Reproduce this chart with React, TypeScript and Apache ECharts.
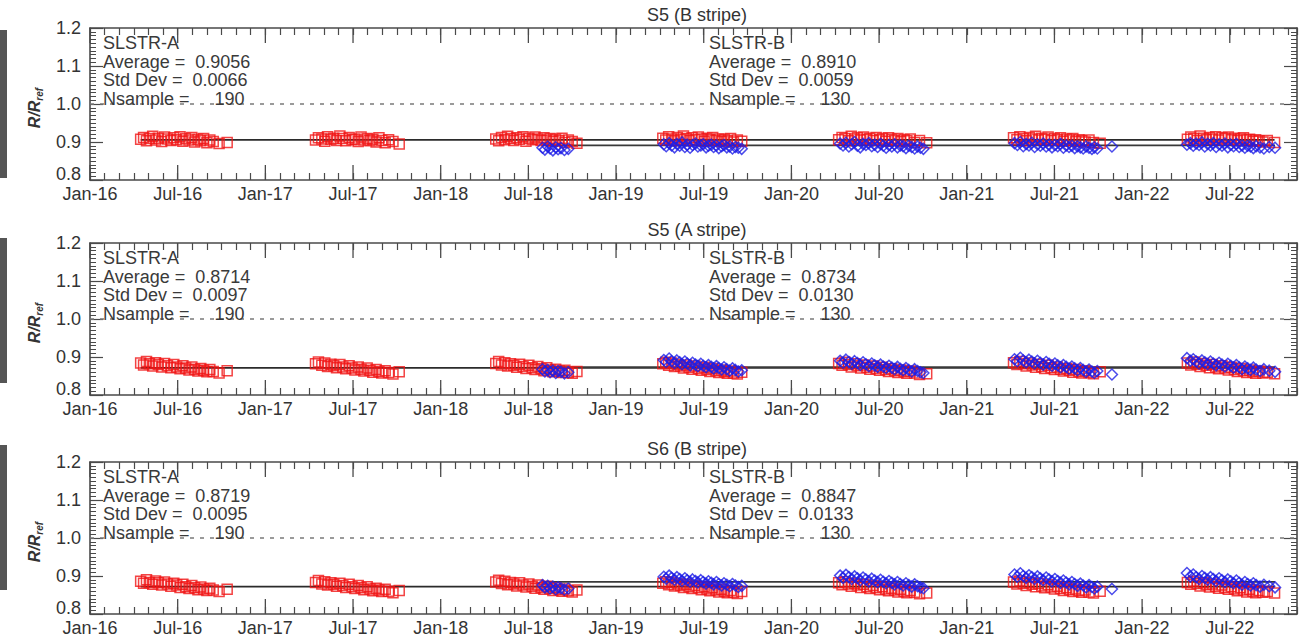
import React, { useEffect, useRef } from 'react';
import * as echarts from 'echarts';

const FONT = '"Liberation Sans", Arial, Helvetica, sans-serif';

// Axis labels and extents
const tickLabels = ['Jan-16', 'Jul-16', 'Jan-17', 'Jul-17', 'Jan-18', 'Jul-18', 'Jan-19', 'Jul-19', 'Jan-20', 'Jul-20', 'Jan-21', 'Jul-21', 'Jan-22', 'Jul-22'];
const monthsPerLabel = 6;
const xMax = 82.6; // months since Jan 2016
const yMin = 0.8;
const yMax = 1.2;
const refLevel = 1.0;

// Panel annotations
const panelTitles = ['S5 (B stripe)', 'S5 (A stripe)', 'S6 (B stripe)'];
const avgA = [0.9056, 0.8714, 0.8719];
const sdA = [0.0066, 0.0097, 0.0095];
const avgB = [0.891, 0.8734, 0.8847];
const sdB = [0.0059, 0.013, 0.0133];
const nSampleA = 190;
const nSampleB = 130;

// Acquisition dates (day of year) per campaign season, shared by all bands
const yearsA = [2016, 2017, 2018, 2019, 2020, 2021, 2022];
const daysA = [
  [106, 112, 118, 124, 131, 137, 143, 150, 156, 162, 169, 175, 181, 188, 194, 200, 207, 213, 219, 226, 232, 238, 245, 251, 258, 270, 287],
  [104, 110, 117, 123, 129, 136, 142, 148, 155, 161, 167, 174, 180, 186, 193, 199, 205, 212, 218, 224, 231, 237, 243, 250, 257, 266, 279],
  [114, 120, 126, 133, 139, 145, 152, 158, 164, 171, 177, 183, 190, 196, 202, 209, 215, 221, 228, 234, 240, 247, 253, 259, 266, 274, 284],
  [97, 103, 109, 115, 121, 127, 134, 140, 146, 152, 158, 164, 171, 177, 183, 189, 195, 201, 208, 214, 220, 226, 232, 239, 245, 253, 262],
  [99, 106, 112, 119, 125, 132, 138, 145, 151, 158, 164, 171, 177, 184, 190, 197, 203, 210, 216, 223, 229, 236, 242, 249, 258, 268, 283],
  [97, 104, 110, 117, 123, 130, 136, 143, 149, 156, 162, 169, 175, 182, 188, 195, 201, 208, 214, 221, 227, 234, 240, 247, 255, 264, 278],
  [94, 101, 107, 114, 120, 127, 133, 140, 146, 153, 159, 166, 172, 179, 185, 192, 198, 205, 211, 218, 224, 231, 237, 244, 252, 261, 276],
];
const yearsB = [2018, 2019, 2020, 2021, 2022];
const daysB = [
  [212, 217, 223, 228, 234, 240, 245, 251, 258, 266],
  [99, 104, 110, 115, 121, 126, 132, 137, 143, 148, 154, 159, 165, 170, 176, 181, 187, 192, 198, 203, 209, 214, 220, 225, 231, 237, 243, 249, 255, 262],
  [102, 108, 114, 120, 126, 132, 138, 144, 150, 156, 162, 168, 174, 180, 186, 192, 198, 204, 210, 216, 222, 228, 234, 240, 246, 252, 258, 264, 270, 276],
  [99, 105, 111, 117, 123, 129, 135, 141, 147, 153, 159, 165, 171, 177, 183, 189, 195, 201, 207, 213, 219, 225, 231, 237, 243, 249, 255, 261, 266, 272, 303],
  [93, 100, 106, 112, 118, 124, 130, 136, 142, 148, 154, 160, 166, 172, 178, 184, 190, 196, 202, 208, 214, 220, 226, 232, 238, 246, 254, 265, 277],
];

// R/Rref ratios, SLSTR-A (same order as daysA)
const s5bA = [
  0.907, 0.912, 0.903, 0.909, 0.915, 0.905, 0.910, 0.901, 0.913, 0.908, 0.904, 0.911, 0.906, 0.914, 0.902, 0.909, 0.905, 0.912, 0.900, 0.907, 0.903, 0.909, 0.898, 0.905, 0.901, 0.896, 0.899,
  0.905, 0.911, 0.908, 0.902, 0.914, 0.907, 0.910, 0.904, 0.916, 0.909, 0.903, 0.912, 0.906, 0.908, 0.901, 0.913, 0.905, 0.909, 0.903, 0.907, 0.900, 0.911, 0.904, 0.898, 0.906, 0.901, 0.895,
  0.908, 0.903, 0.912, 0.906, 0.915, 0.909, 0.904, 0.911, 0.907, 0.914, 0.902, 0.910, 0.906, 0.913, 0.908, 0.904, 0.911, 0.905, 0.909, 0.902, 0.907, 0.903, 0.910, 0.899, 0.905, 0.901, 0.897,
  0.910, 0.905, 0.914, 0.908, 0.903, 0.912, 0.907, 0.916, 0.909, 0.904, 0.911, 0.906, 0.913, 0.908, 0.902, 0.910, 0.906, 0.912, 0.904, 0.908, 0.901, 0.907, 0.903, 0.909, 0.900, 0.905, 0.902,
  0.906, 0.912, 0.909, 0.903, 0.915, 0.908, 0.911, 0.905, 0.913, 0.907, 0.910, 0.904, 0.912, 0.906, 0.909, 0.902, 0.911, 0.907, 0.904, 0.909, 0.901, 0.906, 0.903, 0.908, 0.899, 0.904, 0.898,
  0.911, 0.906, 0.914, 0.909, 0.903, 0.912, 0.908, 0.915, 0.905, 0.910, 0.907, 0.913, 0.904, 0.909, 0.906, 0.911, 0.902, 0.908, 0.905, 0.909, 0.901, 0.906, 0.903, 0.900, 0.905, 0.899, 0.897,
  0.907, 0.913, 0.909, 0.904, 0.916, 0.910, 0.906, 0.912, 0.908, 0.914, 0.905, 0.911, 0.909, 0.913, 0.906, 0.910, 0.904, 0.908, 0.911, 0.905, 0.907, 0.902, 0.906, 0.903, 0.900, 0.904, 0.899,
];
const s5aA = [
  0.884, 0.879, 0.888, 0.882, 0.876, 0.885, 0.880, 0.874, 0.883, 0.877, 0.872, 0.880, 0.874, 0.869, 0.877, 0.871, 0.866, 0.874, 0.868, 0.863, 0.870, 0.865, 0.861, 0.867, 0.862, 0.858, 0.864,
  0.882, 0.887, 0.878, 0.884, 0.875, 0.881, 0.877, 0.872, 0.880, 0.874, 0.869, 0.877, 0.871, 0.866, 0.874, 0.868, 0.863, 0.871, 0.865, 0.860, 0.867, 0.862, 0.858, 0.864, 0.859, 0.855, 0.861,
  0.883, 0.888, 0.879, 0.885, 0.876, 0.882, 0.878, 0.873, 0.881, 0.875, 0.870, 0.878, 0.872, 0.867, 0.875, 0.869, 0.864, 0.872, 0.866, 0.861, 0.868, 0.863, 0.859, 0.865, 0.860, 0.857, 0.862,
  0.882, 0.886, 0.878, 0.884, 0.875, 0.880, 0.876, 0.871, 0.879, 0.873, 0.868, 0.876, 0.870, 0.865, 0.873, 0.867, 0.862, 0.870, 0.864, 0.859, 0.866, 0.861, 0.857, 0.863, 0.858, 0.855, 0.860,
  0.883, 0.878, 0.886, 0.880, 0.874, 0.882, 0.877, 0.871, 0.879, 0.873, 0.868, 0.876, 0.870, 0.865, 0.873, 0.867, 0.862, 0.869, 0.864, 0.859, 0.866, 0.861, 0.857, 0.863, 0.858, 0.854, 0.856,
  0.885, 0.880, 0.888, 0.882, 0.876, 0.884, 0.879, 0.873, 0.881, 0.875, 0.870, 0.878, 0.872, 0.867, 0.874, 0.868, 0.863, 0.870, 0.865, 0.860, 0.867, 0.862, 0.858, 0.864, 0.859, 0.856, 0.861,
  0.884, 0.879, 0.887, 0.881, 0.875, 0.883, 0.878, 0.872, 0.880, 0.874, 0.869, 0.877, 0.871, 0.866, 0.873, 0.867, 0.862, 0.870, 0.864, 0.859, 0.866, 0.861, 0.857, 0.863, 0.858, 0.860, 0.856,
];
const s6bA = [
  0.886, 0.881, 0.890, 0.883, 0.878, 0.887, 0.882, 0.876, 0.884, 0.879, 0.873, 0.881, 0.876, 0.870, 0.878, 0.872, 0.867, 0.875, 0.869, 0.864, 0.871, 0.866, 0.862, 0.868, 0.863, 0.859, 0.865,
  0.883, 0.888, 0.879, 0.885, 0.876, 0.882, 0.878, 0.873, 0.881, 0.875, 0.870, 0.878, 0.872, 0.867, 0.875, 0.869, 0.864, 0.872, 0.866, 0.861, 0.868, 0.863, 0.859, 0.865, 0.860, 0.856, 0.862,
  0.884, 0.889, 0.880, 0.886, 0.877, 0.883, 0.879, 0.874, 0.882, 0.876, 0.871, 0.879, 0.873, 0.868, 0.876, 0.870, 0.865, 0.873, 0.867, 0.862, 0.869, 0.864, 0.860, 0.866, 0.861, 0.858, 0.863,
  0.881, 0.885, 0.877, 0.883, 0.874, 0.879, 0.875, 0.870, 0.878, 0.872, 0.867, 0.875, 0.869, 0.864, 0.872, 0.866, 0.861, 0.869, 0.863, 0.858, 0.865, 0.860, 0.856, 0.862, 0.857, 0.854, 0.859,
  0.882, 0.877, 0.885, 0.879, 0.873, 0.881, 0.876, 0.870, 0.878, 0.872, 0.867, 0.875, 0.869, 0.864, 0.872, 0.866, 0.861, 0.868, 0.863, 0.858, 0.865, 0.860, 0.856, 0.862, 0.857, 0.853, 0.855,
  0.884, 0.879, 0.887, 0.881, 0.875, 0.883, 0.878, 0.872, 0.880, 0.874, 0.869, 0.877, 0.871, 0.866, 0.873, 0.867, 0.862, 0.869, 0.864, 0.859, 0.866, 0.861, 0.857, 0.863, 0.858, 0.855, 0.860,
  0.883, 0.878, 0.886, 0.880, 0.874, 0.882, 0.877, 0.871, 0.879, 0.873, 0.868, 0.876, 0.870, 0.865, 0.872, 0.866, 0.861, 0.869, 0.863, 0.858, 0.865, 0.860, 0.856, 0.862, 0.857, 0.859, 0.855,
];

// R/Rref ratios, SLSTR-B (same order as daysB)
const s5bB = [
  0.885, 0.880, 0.888, 0.883, 0.878, 0.886, 0.881, 0.884, 0.879, 0.882,
  0.894, 0.889, 0.897, 0.891, 0.886, 0.895, 0.890, 0.899, 0.887, 0.893, 0.885, 0.892, 0.896, 0.888, 0.891, 0.894, 0.886, 0.890, 0.893, 0.887, 0.891, 0.884, 0.889, 0.892, 0.886, 0.888, 0.883, 0.887, 0.885, 0.882,
  0.896, 0.891, 0.898, 0.888, 0.894, 0.900, 0.890, 0.886, 0.895, 0.892, 0.897, 0.889, 0.893, 0.887, 0.895, 0.890, 0.885, 0.892, 0.888, 0.894, 0.886, 0.891, 0.889, 0.884, 0.890, 0.887, 0.883, 0.888, 0.885, 0.882,
  0.897, 0.892, 0.900, 0.889, 0.895, 0.891, 0.898, 0.887, 0.894, 0.890, 0.896, 0.888, 0.893, 0.886, 0.892, 0.889, 0.895, 0.885, 0.891, 0.887, 0.890, 0.884, 0.889, 0.886, 0.883, 0.888, 0.885, 0.882, 0.886, 0.883, 0.888,
  0.893, 0.897, 0.890, 0.896, 0.892, 0.899, 0.888, 0.895, 0.891, 0.897, 0.887, 0.894, 0.890, 0.896, 0.886, 0.893, 0.889, 0.895, 0.887, 0.891, 0.885, 0.890, 0.888, 0.884, 0.889, 0.886, 0.883, 0.887, 0.885,
];
const s5aB = [
  0.868, 0.862, 0.866, 0.860, 0.864, 0.858, 0.863, 0.861, 0.857, 0.860,
  0.892, 0.887, 0.896, 0.889, 0.884, 0.891, 0.886, 0.881, 0.888, 0.883, 0.878, 0.885, 0.880, 0.876, 0.882, 0.877, 0.873, 0.879, 0.874, 0.870, 0.876, 0.871, 0.867, 0.873, 0.868, 0.864, 0.870, 0.866, 0.862, 0.865,
  0.890, 0.885, 0.893, 0.887, 0.882, 0.889, 0.884, 0.879, 0.886, 0.881, 0.876, 0.883, 0.878, 0.874, 0.880, 0.875, 0.871, 0.877, 0.872, 0.868, 0.874, 0.869, 0.865, 0.871, 0.866, 0.862, 0.868, 0.863, 0.860, 0.858,
  0.894, 0.889, 0.898, 0.891, 0.886, 0.893, 0.888, 0.883, 0.890, 0.885, 0.880, 0.887, 0.882, 0.877, 0.883, 0.878, 0.873, 0.879, 0.874, 0.869, 0.875, 0.870, 0.865, 0.871, 0.866, 0.861, 0.867, 0.862, 0.858, 0.863, 0.854,
  0.897, 0.890, 0.894, 0.888, 0.883, 0.891, 0.886, 0.881, 0.888, 0.883, 0.878, 0.885, 0.880, 0.875, 0.882, 0.877, 0.872, 0.879, 0.873, 0.868, 0.875, 0.870, 0.866, 0.872, 0.867, 0.863, 0.868, 0.864, 0.861,
];
const s6bB = [
  0.876, 0.870, 0.874, 0.867, 0.872, 0.865, 0.870, 0.868, 0.864, 0.867,
  0.898, 0.893, 0.901, 0.895, 0.890, 0.897, 0.892, 0.887, 0.894, 0.889, 0.885, 0.891, 0.887, 0.883, 0.889, 0.884, 0.880, 0.886, 0.882, 0.878, 0.884, 0.879, 0.875, 0.881, 0.877, 0.873, 0.879, 0.875, 0.871, 0.874,
  0.901, 0.895, 0.903, 0.897, 0.892, 0.899, 0.894, 0.889, 0.896, 0.891, 0.886, 0.893, 0.888, 0.884, 0.890, 0.885, 0.881, 0.887, 0.882, 0.878, 0.884, 0.879, 0.875, 0.881, 0.876, 0.872, 0.878, 0.873, 0.870, 0.868,
  0.904, 0.898, 0.907, 0.900, 0.895, 0.902, 0.897, 0.892, 0.899, 0.894, 0.889, 0.896, 0.891, 0.886, 0.892, 0.887, 0.882, 0.888, 0.883, 0.878, 0.884, 0.879, 0.874, 0.880, 0.875, 0.870, 0.876, 0.871, 0.867, 0.872, 0.866,
  0.908, 0.899, 0.904, 0.897, 0.892, 0.900, 0.895, 0.890, 0.897, 0.892, 0.887, 0.894, 0.889, 0.884, 0.891, 0.886, 0.881, 0.888, 0.882, 0.877, 0.884, 0.879, 0.875, 0.881, 0.876, 0.872, 0.877, 0.873, 0.870,
];

const valuesA = [s5bA, s5aA, s6bA];
const valuesB = [s5bB, s5aB, s6bB];

// Layout of the three stacked panels
const panelTops = [28, 243, 462];
const panelHeight = 152;
const gridLeft = 90;
const gridRight = 10;

const RED = '#f01414';
const BLUE = '#1e1ee6';
const FRAME = '#4a4a4a';
const TEXT = '#333333';

// Fractional months since Jan 2016
function monthIndex(year: number, doy: number): number {
  const d = new Date(Date.UTC(year, 0, doy));
  const y = d.getUTCFullYear();
  const m = d.getUTCMonth();
  const dim = new Date(Date.UTC(y, m + 1, 0)).getUTCDate();
  return (y - 2016) * 12 + m + (d.getUTCDate() - 1) / dim;
}

function flattenDates(years: number[], days: number[][]): number[] {
  const out: number[] = [];
  years.forEach((yr, i) => days[i].forEach((d) => out.push(monthIndex(yr, d))));
  return out;
}

const monthsA = flattenDates(yearsA, daysA);
const monthsB = flattenDates(yearsB, daysB);

function pairUp(months: number[], vals: number[]): number[][] {
  const n = Math.min(months.length, vals.length);
  const out: number[][] = [];
  for (let i = 0; i < n; i++) out.push([months[i], vals[i]]);
  return out;
}

function xLabel(v: number): string {
  const r = Math.round(v);
  if (Math.abs(v - r) > 1e-6 || r % monthsPerLabel !== 0) return '';
  return tickLabels[r / monthsPerLabel] ?? '';
}

function yLabel(v: number): string {
  const s = v.toFixed(1);
  return Math.abs(v - yMin) < 1e-9 ? `{lo|${s}}` : s;
}

function buildOption() {
  const grid: any[] = [];
  const xAxis: any[] = [];
  const yAxis: any[] = [];
  const series: any[] = [];
  const graphic: any[] = [];

  const majorTicks = tickLabels.map((_, i) => [i * monthsPerLabel, yMin]);

  panelTitles.forEach((title, p) => {
    const top = panelTops[p];
    grid.push({ left: gridLeft, right: gridRight, top, height: panelHeight });

    const xBase = {
      type: 'value',
      gridIndex: p,
      min: 0,
      max: xMax,
      interval: 1,
      axisLine: { show: true, onZero: false, lineStyle: { color: FRAME, width: 1.6 } },
      axisTick: { show: true, inside: true, length: 7, lineStyle: { color: FRAME, width: 1.2 } },
      splitLine: { show: false },
    };
    xAxis.push({
      ...xBase,
      position: 'bottom',
      axisLabel: { show: true, formatter: xLabel, fontSize: 18, color: TEXT, fontFamily: FONT, margin: 5 },
    });
    xAxis.push({ ...xBase, position: 'top', axisLabel: { show: false } });

    const yBase = {
      type: 'value',
      gridIndex: p,
      min: yMin,
      max: yMax,
      interval: 0.1,
      axisLine: { show: true, onZero: false, lineStyle: { color: FRAME, width: 1.6 } },
      axisTick: { show: true, inside: true, length: 13, lineStyle: { color: FRAME, width: 1.2 } },
      minorTick: { show: true, splitNumber: 10, length: 6, lineStyle: { color: FRAME, width: 1 } },
      splitLine: { show: false },
      minorSplitLine: { show: false },
    };
    yAxis.push({
      ...yBase,
      position: 'left',
      axisLabel: {
        show: true,
        formatter: yLabel,
        fontSize: 18,
        color: TEXT,
        fontFamily: FONT,
        margin: 9,
        rich: { lo: { fontSize: 18, color: TEXT, fontFamily: FONT, padding: [0, 0, 12, 0] } },
      },
    });
    yAxis.push({ ...yBase, position: 'right', axisLabel: { show: false } });

    const xi = p * 2;
    const yi = p * 2;

    // Long ticks at Jan / Jul on bottom and top frame
    series.push({
      type: 'custom',
      xAxisIndex: xi,
      yAxisIndex: yi,
      data: majorTicks,
      encode: { x: 0, y: 1 },
      clip: false,
      silent: true,
      z: 1,
      renderItem: (_params: any, api: any) => {
        const v = api.value(0);
        const b = api.coord([v, yMin]);
        const t = api.coord([v, yMax]);
        const st = { stroke: FRAME, lineWidth: 1.3 };
        return {
          type: 'group',
          children: [
            { type: 'line', shape: { x1: b[0], y1: b[1], x2: b[0], y2: b[1] - 15 }, style: st },
            { type: 'line', shape: { x1: t[0], y1: t[1], x2: t[0], y2: t[1] + 15 }, style: st },
          ],
        };
      },
    });

    const aStart = Math.min(...monthsA);
    const aEnd = Math.max(...monthsA);
    const bStart = Math.min(...monthsB);
    const bEnd = Math.max(...monthsB);

    // Mean level of SLSTR-A, plus the dashed unity reference
    series.push({
      type: 'line',
      xAxisIndex: xi,
      yAxisIndex: yi,
      data: [[aStart, avgA[p]], [aEnd, avgA[p]]],
      symbol: 'none',
      silent: true,
      z: 2,
      lineStyle: { color: '#2b2b2b', width: 1.8 },
      markLine: {
        silent: true,
        symbol: 'none',
        label: { show: false },
        lineStyle: { type: [4, 6], color: '#7a7a7a', width: 1.5 },
        data: [{ yAxis: refLevel }],
      },
    });
    // Mean level of SLSTR-B
    series.push({
      type: 'line',
      xAxisIndex: xi,
      yAxisIndex: yi,
      data: [[bStart, avgB[p]], [bEnd, avgB[p]]],
      symbol: 'none',
      silent: true,
      z: 2,
      lineStyle: { color: '#3a3a3a', width: 1.8 },
    });

    series.push({
      type: 'scatter',
      name: 'SLSTR-A',
      xAxisIndex: xi,
      yAxisIndex: yi,
      data: pairUp(monthsA, valuesA[p]),
      symbol: 'rect',
      symbolSize: 10,
      z: 3,
      itemStyle: { color: 'rgba(0,0,0,0)', borderColor: RED, borderWidth: 1.5 },
    });
    series.push({
      type: 'scatter',
      name: 'SLSTR-B',
      xAxisIndex: xi,
      yAxisIndex: yi,
      data: pairUp(monthsB, valuesB[p]),
      symbol: 'diamond',
      symbolSize: 11,
      z: 4,
      itemStyle: { color: 'rgba(0,0,0,0)', borderColor: BLUE, borderWidth: 1.5 },
    });

    // Panel title
    graphic.push({
      type: 'text',
      x: 697,
      y: top - 13,
      z: 10,
      style: { text: title, align: 'center', verticalAlign: 'middle', font: `18px ${FONT}`, fill: TEXT },
    });

    // Statistics blocks
    const blocks = [
      { x: 103, name: 'SLSTR-A', avg: avgA[p], sd: sdA[p], n: nSampleA },
      { x: 709, name: 'SLSTR-B', avg: avgB[p], sd: sdB[p], n: nSampleB },
    ];
    blocks.forEach((b) => {
      const lines = [
        b.name,
        `Average =  ${b.avg.toFixed(4)}`,
        `Std Dev =  ${b.sd.toFixed(4)}`,
        `Nsample =     ${b.n}`,
      ];
      lines.forEach((t, k) => {
        graphic.push({
          type: 'text',
          x: b.x,
          y: top + 15 + k * 18.5,
          z: 10,
          style: { text: t, align: 'left', verticalAlign: 'middle', font: `18px ${FONT}`, fill: '#3a3a3a' },
        });
      });
    });

    // Vertical axis name R/Rref
    graphic.push({
      type: 'text',
      x: 34,
      y: top + 80,
      rotation: Math.PI / 2,
      z: 10,
      style: {
        text: '{m|R/R}{s|ref}',
        align: 'center',
        verticalAlign: 'middle',
        fill: TEXT,
        rich: {
          m: { fontSize: 16, fontWeight: 'bold', fontStyle: 'italic', fontFamily: FONT, lineHeight: 20, fill: TEXT },
          s: { fontSize: 10, fontWeight: 'bold', fontStyle: 'italic', fontFamily: FONT, lineHeight: 10, verticalAlign: 'bottom', fill: TEXT },
        },
      },
    });
  });

  // Dark edge strips at the far left
  const strips = [
    [30, 148],
    [238, 145],
    [445, 145],
  ];
  strips.forEach(([y, h]) => {
    graphic.push({ type: 'rect', shape: { x: 0, y, width: 7, height: h }, style: { fill: '#555555' }, z: 10 });
  });

  return {
    animation: false,
    backgroundColor: '#ffffff',
    grid,
    xAxis,
    yAxis,
    series,
    graphic,
  };
}

export default function App() {
  const ref = useRef<HTMLDivElement>(null);
  useEffect(() => {
    if (!ref.current) return;
    const chart = echarts.init(ref.current, undefined, { renderer: 'svg' });
    chart.setOption(buildOption() as any);
    return () => chart.dispose();
  }, []);
  return (
    <div
      ref={ref}
      style={{ position: 'fixed', left: 0, top: 0, width: 1307, height: 642, background: '#fff' }}
    />
  );
}
